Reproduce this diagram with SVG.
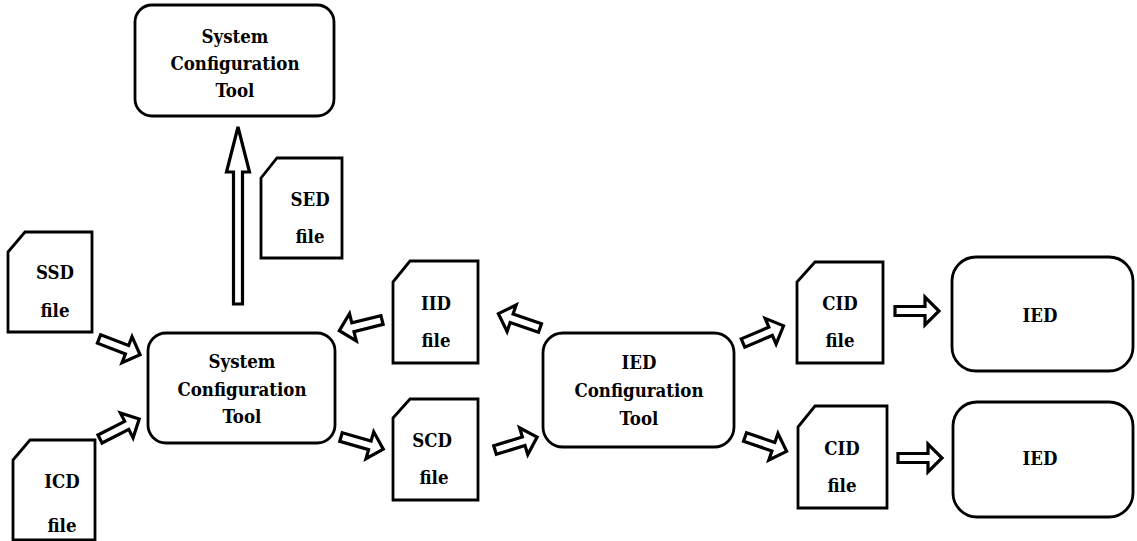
<svg xmlns="http://www.w3.org/2000/svg" width="1137" height="541" viewBox="0 0 1137 541">
  <style>
    .box { fill: #ffffff; stroke: #000000; stroke-width: 2.8; }
    .file { fill: #ffffff; stroke: #000000; stroke-width: 2.8; stroke-linejoin: miter; }
    .arrow { fill: #ffffff; stroke: #000000; stroke-width: 3.2; stroke-linejoin: miter; }
    text { font-family: "DejaVu Serif Condensed", "DejaVu Serif", serif; font-stretch: condensed; font-weight: bold; font-size: 18.5px; fill: #000000; text-anchor: middle; }
  </style>
  <defs>
    <!-- hollow block arrow, tail at origin, pointing along +x -->
    <path id="blockArrow" d="M0,-4.5 H30 V-14 L44,0 L30,14 V4.5 H0 Z"/>
  </defs>

  <!-- rounded tool boxes -->
  <g id="sct-top">
    <rect class="box" x="135" y="5" width="199" height="111" rx="17"/>
    <text x="235" y="43">System</text>
    <text x="235" y="70">Configuration</text>
    <text x="235" y="97">Tool</text>
  </g>
  <g id="sct-main">
    <rect class="box" x="148" y="333" width="187" height="110" rx="18"/>
    <text x="242" y="368">System</text>
    <text x="242" y="396">Configuration</text>
    <text x="242" y="423">Tool</text>
  </g>
  <g id="ict">
    <rect class="box" x="543" y="333" width="191" height="114" rx="20"/>
    <text x="639" y="369">IED</text>
    <text x="639" y="397">Configuration</text>
    <text x="639" y="425">Tool</text>
  </g>
  <g id="ied-1">
    <rect class="box" x="952" y="257" width="181" height="114" rx="24"/>
    <text x="1040" y="322">IED</text>
  </g>
  <g id="ied-2">
    <rect class="box" x="953" y="402" width="180" height="115" rx="24"/>
    <text x="1040" y="465">IED</text>
  </g>

  <!-- file documents with a clipped corner -->
  <g id="file-ssd">
    <path class="file" d="M8,252 L25,232 H92 V332 H8 Z"/>
    <text x="55" y="279">SSD</text>
    <text x="55" y="317">file</text>
  </g>
  <g id="file-icd">
    <path class="file" d="M13,460 L30,440 H95 V540 H13 Z"/>
    <text x="62" y="488">ICD</text>
    <text x="62" y="532">file</text>
  </g>
  <g id="file-sed">
    <path class="file" d="M261,178 L277,158 H342 V258 H261 Z"/>
    <text x="310" y="206">SED</text>
    <text x="310" y="243">file</text>
  </g>
  <g id="file-iid">
    <path class="file" d="M393,282 L410,261 H478 V363 H393 Z"/>
    <text x="436" y="310">IID</text>
    <text x="436" y="347">file</text>
  </g>
  <g id="file-scd">
    <path class="file" d="M393,418 L410,399 H478 V500 H393 Z"/>
    <text x="432" y="447">SCD</text>
    <text x="434" y="484">file</text>
  </g>
  <g id="file-cid-1">
    <path class="file" d="M797,282 L815,262 H883 V363 H797 Z"/>
    <text x="840" y="310">CID</text>
    <text x="840" y="347">file</text>
  </g>
  <g id="file-cid-2">
    <path class="file" d="M798,427 L815,406 H887 V508 H798 Z"/>
    <text x="842" y="455">CID</text>
    <text x="842" y="492">file</text>
  </g>

  <!-- connectors -->
  <g id="connectors">
    <path class="arrow" d="M233.5,304 V172 H226.5 L238,127 L249.5,172 H242.5 V304 Z"/>
    <use href="#blockArrow" class="arrow" transform="translate(99,339) rotate(21)"/>
    <use href="#blockArrow" class="arrow" transform="translate(100,439) rotate(-27)"/>
    <use href="#blockArrow" class="arrow" transform="translate(382,320) rotate(166)"/>
    <use href="#blockArrow" class="arrow" transform="translate(540,328) rotate(-161)"/>
    <use href="#blockArrow" class="arrow" transform="translate(341,437) rotate(16)"/>
    <use href="#blockArrow" class="arrow" transform="translate(495,450) rotate(-17)"/>
    <use href="#blockArrow" class="arrow" transform="translate(743,343) rotate(-23)"/>
    <use href="#blockArrow" class="arrow" transform="translate(745,437) rotate(19)"/>
    <use href="#blockArrow" class="arrow" transform="translate(895,311)"/>
    <use href="#blockArrow" class="arrow" transform="translate(898,458)"/>
  </g>
</svg>
